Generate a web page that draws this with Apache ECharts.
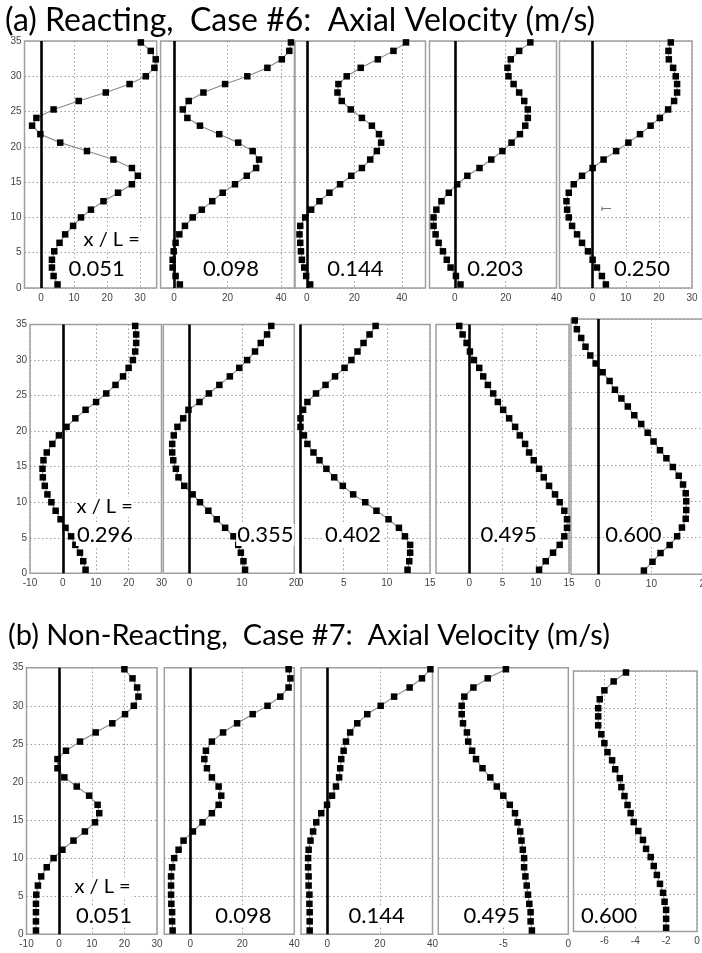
<!DOCTYPE html>
<html><head><meta charset="utf-8">
<script src="https://cdn.jsdelivr.net/npm/echarts@6/dist/echarts.min.js"></script>
<style>html,body{margin:0;padding:0;background:#fff}#c{width:702px;height:953px}</style>
</head><body><div id="c"></div>
<script>
// ---------------- DATA ----------------
// radial positions of the measurement points (same for every station)
const radialPos = [0.5, 1.7, 2.9, 4.0, 5.2, 6.4, 7.6, 8.8, 10.0, 11.1, 12.3, 13.5, 14.7, 15.9, 17.0, 18.2, 19.4, 20.6, 21.8, 23.0, 24.1, 25.3, 26.5, 27.7, 28.9, 30.0, 31.2, 32.4, 33.6, 34.8];
const yTicks = [0, 5, 10, 15, 20, 25, 30, 35];

const titles = ['(a) Reacting,  Case #6:  Axial Velocity (m/s)', '(b) Non-Reacting,  Case #7:  Axial Velocity (m/s)'];
const xOverL = 'x / L =';

// (a) reacting, case #6
const reactingStations = ['0.051', '0.098', '0.144', '0.203', '0.250', '0.296', '0.355', '0.402', '0.495', '0.600'];
const vR051 = [5.0, 3.8, 3.3, 3.3, 4.0, 5.6, 7.3, 9.7, 12.1, 15.1, 18.9, 23.3, 27.5, 29.3, 27.5, 21.9, 13.9, 5.8, -0.2, -2.7, -1.4, 3.8, 11.4, 19.6, 26.8, 31.7, 34.3, 34.7, 33.2, 30.2];
const vR098 = [2.2, 0.6, -0.5, -0.5, -0.1, 0.6, 2.0, 4.1, 7.0, 10.4, 14.3, 18.2, 22.8, 27.2, 30.7, 31.8, 29.4, 24.0, 16.9, 9.7, 5.0, 3.3, 5.5, 11.0, 19.1, 27.4, 34.9, 40.3, 43.1, 43.7];
const vR144 = [1.4, -0.3, -1.1, -2.1, -2.5, -2.8, -3.1, -2.8, -0.7, 1.8, 5.3, 9.5, 14.0, 18.7, 23.2, 26.7, 29.5, 31.3, 30.4, 27.4, 23.2, 18.5, 14.7, 12.9, 13.3, 16.8, 22.7, 29.9, 36.5, 41.8];
const vR203 = [2.2, 0.4, -1.7, -3.2, -4.7, -6.4, -7.6, -8.4, -8.4, -7.3, -5.3, -2.4, 0.9, 4.9, 9.7, 14.3, 18.7, 22.3, 25.6, 27.7, 28.7, 28.7, 27.3, 25.3, 23.1, 21.1, 20.7, 22.0, 25.3, 29.7];
const vR250 = [4.0, 2.8, 1.3, 0.0, -1.4, -3.2, -4.7, -6.2, -7.2, -7.7, -7.9, -7.2, -5.7, -3.2, 0.0, 3.3, 7.1, 10.8, 14.3, 17.5, 20.3, 22.8, 24.6, 25.5, 25.5, 25.1, 24.3, 23.0, 22.9, 23.6];
const vR296 = [6.9, 6.2, 5.2, 3.8, 2.5, 0.8, -0.7, -2.2, -3.5, -4.7, -5.5, -6.1, -6.2, -5.9, -4.9, -3.2, -1.2, 1.1, 3.8, 6.9, 10.1, 13.2, 16.0, 18.3, 20.0, 21.3, 22.0, 22.3, 22.3, 22.0];
const vR355 = [10.6, 10.3, 9.8, 9.3, 8.4, 6.8, 5.2, 3.6, 2.0, 0.6, -1.0, -2.1, -2.6, -3.1, -3.3, -3.3, -3.0, -2.3, -1.2, -0.2, 1.9, 3.7, 5.7, 7.7, 9.5, 11.0, 12.5, 13.6, 14.8, 15.6];
const vR402 = [12.4, 12.6, 12.7, 12.7, 12.1, 11.4, 10.2, 8.8, 7.5, 6.1, 4.9, 3.9, 3.0, 2.2, 1.5, 0.8, 0.4, 0.0, 0.0, 0.3, 0.8, 1.8, 2.9, 4.0, 5.1, 5.9, 6.6, 7.3, 8.0, 8.7];
const vR495 = [10.5, 11.5, 12.6, 13.6, 14.3, 14.7, 14.7, 14.3, 13.6, 12.9, 12.0, 11.2, 10.5, 9.7, 9.0, 8.4, 7.6, 6.9, 6.0, 5.1, 4.3, 3.6, 2.8, 2.1, 1.5, 0.7, 0.1, -0.4, -1.0, -1.5];
const vR600 = [8.6, 10.2, 11.7, 13.4, 14.8, 15.7, 16.4, 16.5, 16.5, 16.4, 15.9, 15.1, 14.0, 12.8, 11.6, 10.4, 9.3, 8.1, 6.8, 5.6, 4.4, 3.2, 2.2, 0.9, -0.4, -1.4, -2.3, -3.1, -3.9, -4.3];
const reactingXRange = [[-5, 35], [-5, 45], [-5, 50], [-10, 40], [-10, 30], [-10, 30], [-5, 20], [0, 15], [-5, 15], [-5, 20]];
const reactingXTicks = [[0, 10, 20, 30], [0, 20, 40], [0, 20, 40], [0, 20, 40], [0, 10, 20, 30], [-10, 0, 10, 20, 30], [0, 10, 20], [0, 5, 10, 15], [0, 5, 10, 15], [0, 10, 20]];

// (b) non-reacting, case #7
const nonReactingStations = ['0.051', '0.098', '0.144', '0.495', '0.600'];
const vN051 = [-7.1, -7.1, -7.1, -7.1, -7.0, -6.5, -5.5, -3.8, -1.7, 1.0, 4.4, 7.9, 11.0, 12.3, 11.8, 9.2, 5.4, 1.6, -0.5, -0.5, 2.1, 6.4, 11.2, 16.3, 20.2, 22.9, 24.3, 23.9, 22.5, 20.0];
const vN098 = [-6.8, -7.0, -7.0, -7.3, -7.4, -7.4, -7.4, -7.0, -6.2, -4.5, -2.6, 1.0, 4.7, 8.3, 10.9, 11.9, 10.9, 8.3, 6.4, 5.4, 6.0, 8.3, 12.6, 18.0, 24.0, 29.7, 34.6, 37.8, 38.5, 37.8];
const vN144 = [-6.7, -6.7, -6.7, -6.8, -6.8, -7.1, -7.1, -7.3, -7.3, -7.1, -6.4, -5.4, -4.2, -2.3, -0.1, 1.8, 3.3, 4.5, 4.9, 5.3, 6.2, 7.1, 8.7, 11.4, 15.2, 20.3, 25.4, 31.3, 36.0, 39.2];
const vN495 = [-2.8, -2.9, -2.9, -3.0, -3.1, -3.2, -3.3, -3.4, -3.4, -3.5, -3.6, -3.7, -3.9, -4.1, -4.5, -5.0, -5.5, -6.0, -6.6, -7.1, -7.4, -7.7, -7.8, -8.1, -8.2, -8.2, -8.0, -7.3, -6.2, -4.8];
const vN600 = [-2.0, -2.0, -2.0, -2.1, -2.2, -2.4, -2.6, -2.8, -3.0, -3.3, -3.5, -3.8, -4.1, -4.3, -4.5, -4.7, -4.9, -5.0, -5.3, -5.5, -5.8, -6.0, -6.2, -6.4, -6.4, -6.4, -6.3, -6.0, -5.4, -4.6];
const nonReactingXRange = [[-10, 30], [-10, 40], [-10, 40], [-10, 0], [-8, 0]];
const nonReactingXTicks = [[-10, 0, 10, 20, 30], [0, 20, 40], [0, 20, 40], [-5, 0], [-6, -4, -2, 0]];

// ---------------- LAYOUT ----------------
const panelBoxes = [ // left, top, width, height (px)
  [24.5, 41, 132.2, 247], [160.6, 41, 133.8, 247], [295, 41, 130.5, 247], [429.5, 41, 127, 247], [559.5, 41, 132.5, 247],
  [30, 324.5, 131.5, 248.8], [163.3, 324.5, 131, 248.8], [300.5, 324.5, 129.5, 248.8], [436, 324.5, 133, 248.8], [571, 319, 134, 255.2],
  [26.5, 667.7, 130.5, 266.6], [164.3, 667.7, 130, 266.6], [301, 667.7, 131.5, 266.6], [438.3, 667.7, 130, 266.6], [573.5, 671, 123.5, 260.5]
];
const stationLabelPos = [[96.7, 269], [231, 269], [355.3, 269], [495.3, 269], [642, 269],
  [105, 535], [265.3, 535], [353, 535], [508.7, 535], [633.3, 535],
  [104, 916], [243.3, 916], [376.7, 916], [491.7, 916], [609.2, 916]];
const xlLabelPos = [[111.7, 240], [104.7, 507], [102.5, 887]];
const titlePos = [[5, 21], [8, 636]];
const titleSize = [32, 29];
const firstInRow = [0, 5, 10];

// ---------------- BUILD ----------------
const velocities = [vR051, vR098, vR144, vR203, vR250, vR296, vR355, vR402, vR495, vR600, vN051, vN098, vN144, vN495, vN600];
const ranges = reactingXRange.concat(nonReactingXRange);
const ticks = reactingXTicks.concat(nonReactingXTicks);
const stations = reactingStations.concat(nonReactingStations);

const grids = [], xAxes = [], yAxes = [], series = [], graphic = [];
const gridLine = {color: '#9c9c9c', type: [1.5, 2.5], width: 1};
const tickFont = {color: '#444', fontSize: 10, fontFamily: 'Liberation Sans'};

velocities.forEach((v, i) => {
  const b = panelBoxes[i];
  grids.push({left: b[0], top: b[1], width: b[2], height: b[3], show: true, borderColor: '#a0a0a0', borderWidth: 1.5,
    backgroundColor: 'transparent', containLabel: false, outerBoundsMode: 'none'});
  xAxes.push({gridIndex: i, type: 'value', min: ranges[i][0], max: ranges[i][1],
    axisLine: {show: false},
    axisTick: {show: false, customValues: ticks[i]},
    axisLabel: Object.assign({show: true, margin: 5, customValues: ticks[i], hideOverlap: false}, tickFont),
    splitLine: {show: true, lineStyle: gridLine}});
  yAxes.push({gridIndex: i, type: 'value', min: 0, max: 35, interval: 5,
    axisLine: {show: false}, axisTick: {show: false},
    axisLabel: Object.assign({show: firstInRow.includes(i), margin: 3}, tickFont),
    splitLine: {show: true, lineStyle: gridLine}});
  const hasZero = ranges[i][0] <= 0 && ranges[i][1] > 0;
  series.push({
    type: 'line', xAxisIndex: i, yAxisIndex: i,
    data: radialPos.map((r, k) => [v[k], r]),
    symbol: 'rect', symbolSize: 6.5, showSymbol: true,
    itemStyle: {color: '#000'}, lineStyle: {color: '#8a8a8a', width: 1.1},
    animation: false, silent: true, z: 3,
    markLine: hasZero ? {silent: true, symbol: ['none', 'none'], label: {show: false}, animation: false,
      lineStyle: {color: '#000', width: 2.6, type: 'solid'}, emphasis: {disabled: true},
      data: [{xAxis: 0}]} : undefined
  });
  graphic.push({type: 'text', x: stationLabelPos[i][0], y: stationLabelPos[i][1], z: 100,
    style: {text: stations[i], fontSize: 22, fontFamily: 'Lato', fill: '#000', align: 'center', verticalAlign: 'middle',
      backgroundColor: '#fff', padding: [0, 1]}});
});

xlLabelPos.forEach(p => graphic.push({type: 'text', x: p[0], y: p[1], z: 100,
  style: {text: xOverL, fontSize: 20, fontFamily: 'Lato', fill: '#000', align: 'center', verticalAlign: 'middle',
    backgroundColor: '#fff', padding: [0, 1]}}));
titles.forEach((t, i) => graphic.push({type: 'text', x: titlePos[i][0], y: titlePos[i][1], z: 100,
  style: {text: t, fontSize: titleSize[i], fontFamily: 'Lato', fill: '#000', align: 'left', verticalAlign: 'middle'}}));
// small stray mark inside the x/L = 0.250 panel
graphic.push({type: 'polyline', z: 50, shape: {points: [[602, 206.5], [602, 210.5], [602, 208.5], [611, 208.5]]},
  style: {stroke: '#777', lineWidth: 1, fill: null}});

const chart = echarts.init(document.getElementById('c'), null, {renderer: 'canvas'});
chart.setOption({
  animation: false,
  backgroundColor: '#fff',
  grid: grids, xAxis: xAxes, yAxis: yAxes, series: series, graphic: graphic
});
</script>
</body></html>
